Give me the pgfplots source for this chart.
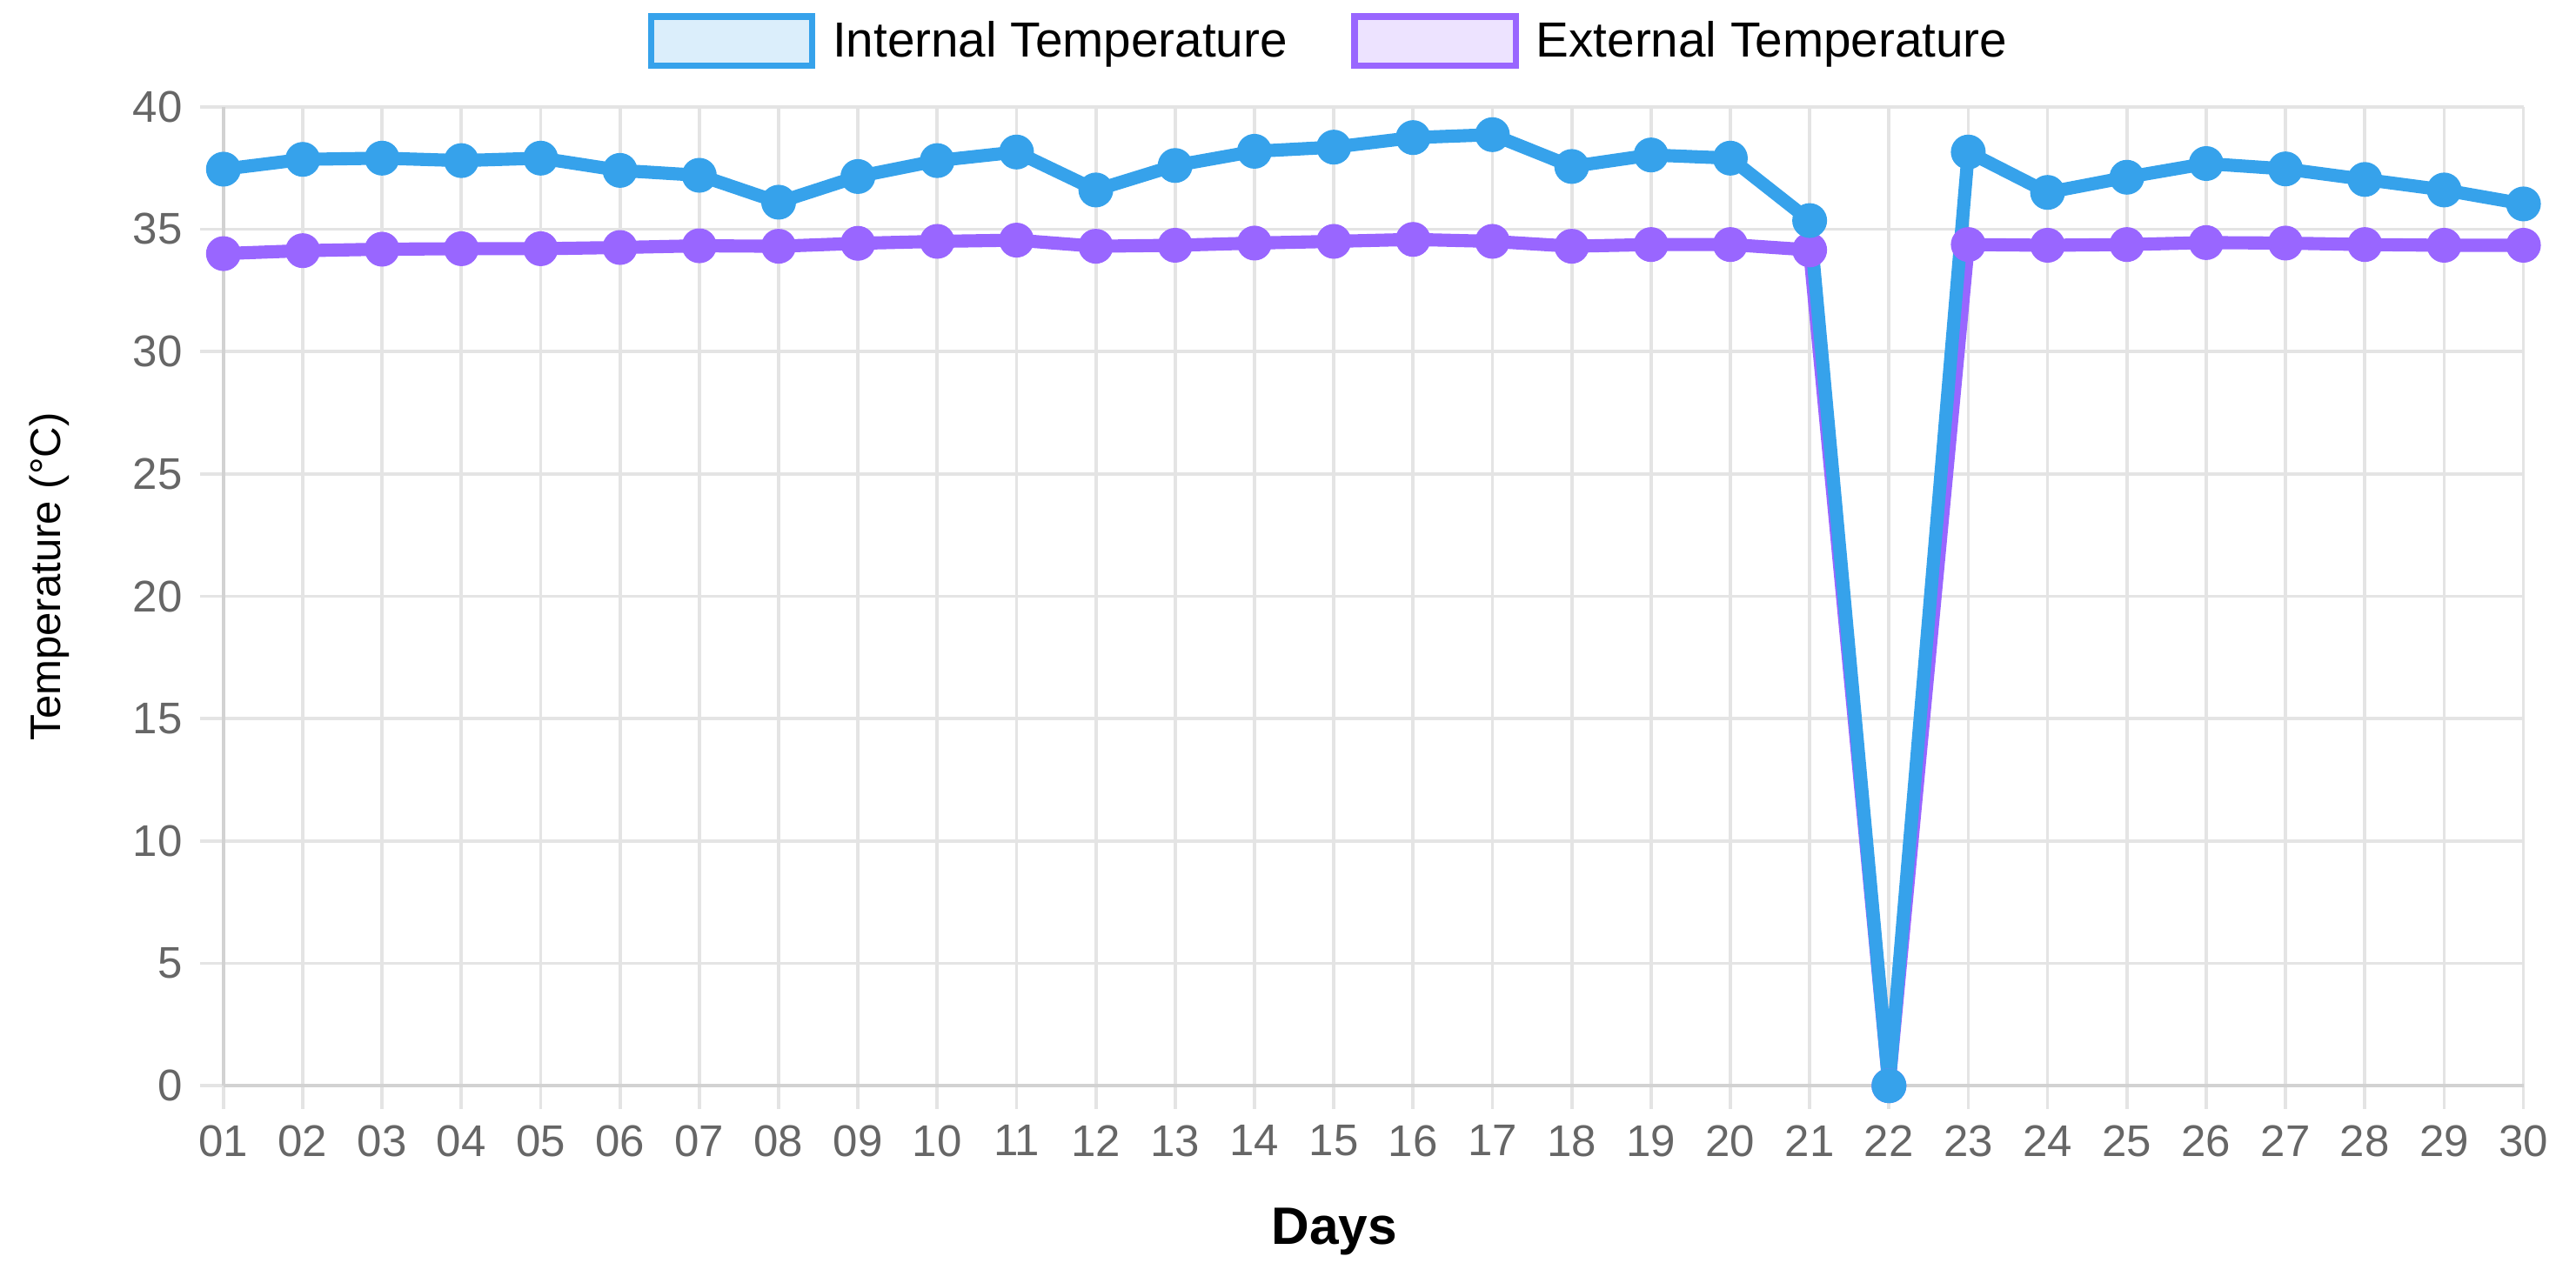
\documentclass[border=0pt]{standalone}
\usepackage{pgfplots}
\pgfplotsset{compat=1.18}
\usepackage{fontspec}
\setmainfont{Liberation Sans}

\definecolor{intblue}{RGB}{54,162,235}
\definecolor{extpurple}{RGB}{153,102,255}
\definecolor{tickgray}{RGB}{102,102,102}
\definecolor{gridgray}{RGB}{228,228,228}
\definecolor{axisgray}{RGB}{210,210,210}

% daily temperatures
\pgfplotstableread{
day int ext
1 37.45 34.00
2 37.85 34.12
3 37.90 34.18
4 37.80 34.20
5 37.90 34.20
6 37.40 34.25
7 37.20 34.32
8 36.10 34.30
9 37.15 34.42
10 37.80 34.50
11 38.15 34.55
12 36.60 34.30
13 37.60 34.34
14 38.18 34.43
15 38.35 34.50
16 38.74 34.58
17 38.86 34.50
18 37.56 34.30
19 38.03 34.37
20 37.90 34.37
21 35.35 34.15
22 0 0
23 38.15 34.37
24 36.50 34.34
25 37.12 34.37
26 37.68 34.45
27 37.46 34.43
28 37.03 34.37
29 36.60 34.34
30 36.03 34.34
}\temps

\begin{document}
\begin{tikzpicture}
\begin{axis}[
    width=700pt,
    height=298pt,
    scale only axis,
    xmin=1, xmax=30,
    ymin=0, ymax=40,
    xtick={1,...,30},
    xticklabels={01,02,03,04,05,06,07,08,09,10,11,12,13,14,15,16,17,18,19,20,21,22,23,24,25,26,27,28,29,30},
    ytick={0,5,...,40},
    axis lines=left,
    axis line style={axisgray, line width=1.2pt, -},
    tick align=outside,
    major tick length=7pt,
    tick style={gridgray, line width=1pt},
    grid=major,
    grid style={gridgray, line width=1pt},
    /pgf/number format/assume math mode=true,
    tick label style={font=\fontsize{13.5}{16}\selectfont, text=tickgray},
    xticklabel style={anchor=north, yshift=-1.5pt},
    yticklabel style={anchor=east, xshift=-2pt},
    xlabel={Days},
    xlabel style={at={(axis description cs:0.483,-0.149)}, anchor=center, font=\fontsize{16}{19}\selectfont\bfseries},
    ylabel={Temperature (°C)},
    ylabel style={at={(axis description cs:-0.0757,0.52)}, anchor=center, font=\fontsize{13}{15}\selectfont},
    clip=false,
    legend columns=2,
    legend cell align=left,
    legend style={
        at={(axis description cs:0.1843,1.067)},
        anchor=west,
        draw=none, fill=none, inner sep=0pt,
        font=\fontsize{15}{18}\selectfont,
        /tikz/every even column/.append style={column sep=17.5pt},
    },
]
\addlegendimage{legend image code/.code={\draw[line width=2pt, draw=intblue, fill=intblue!18] (0pt,-7.5pt) rectangle (49pt,7.5pt); \path (53pt,0pt);}}
\addlegendentry{Internal Temperature}
\addlegendimage{legend image code/.code={\draw[line width=2pt, draw=extpurple, fill=extpurple!18] (0pt,-7.5pt) rectangle (49pt,7.5pt); \path (53pt,0pt);}}
\addlegendentry{External Temperature}

\addplot[forget plot, extpurple, line width=4pt, mark=*, mark size=5pt,
    mark options={solid, fill=extpurple, draw=extpurple, line width=0.6pt}]
    table[x=day, y=ext] {\temps};
\addplot[forget plot, intblue, line width=4pt, mark=*, mark size=5pt,
    mark options={solid, fill=intblue, draw=intblue, line width=0.6pt}]
    table[x=day, y=int] {\temps};
\end{axis}
\pgfresetboundingbox
\path[use as bounding box] (-68pt,-60pt) rectangle (716pt,330.5pt);
\end{tikzpicture}
\end{document}
